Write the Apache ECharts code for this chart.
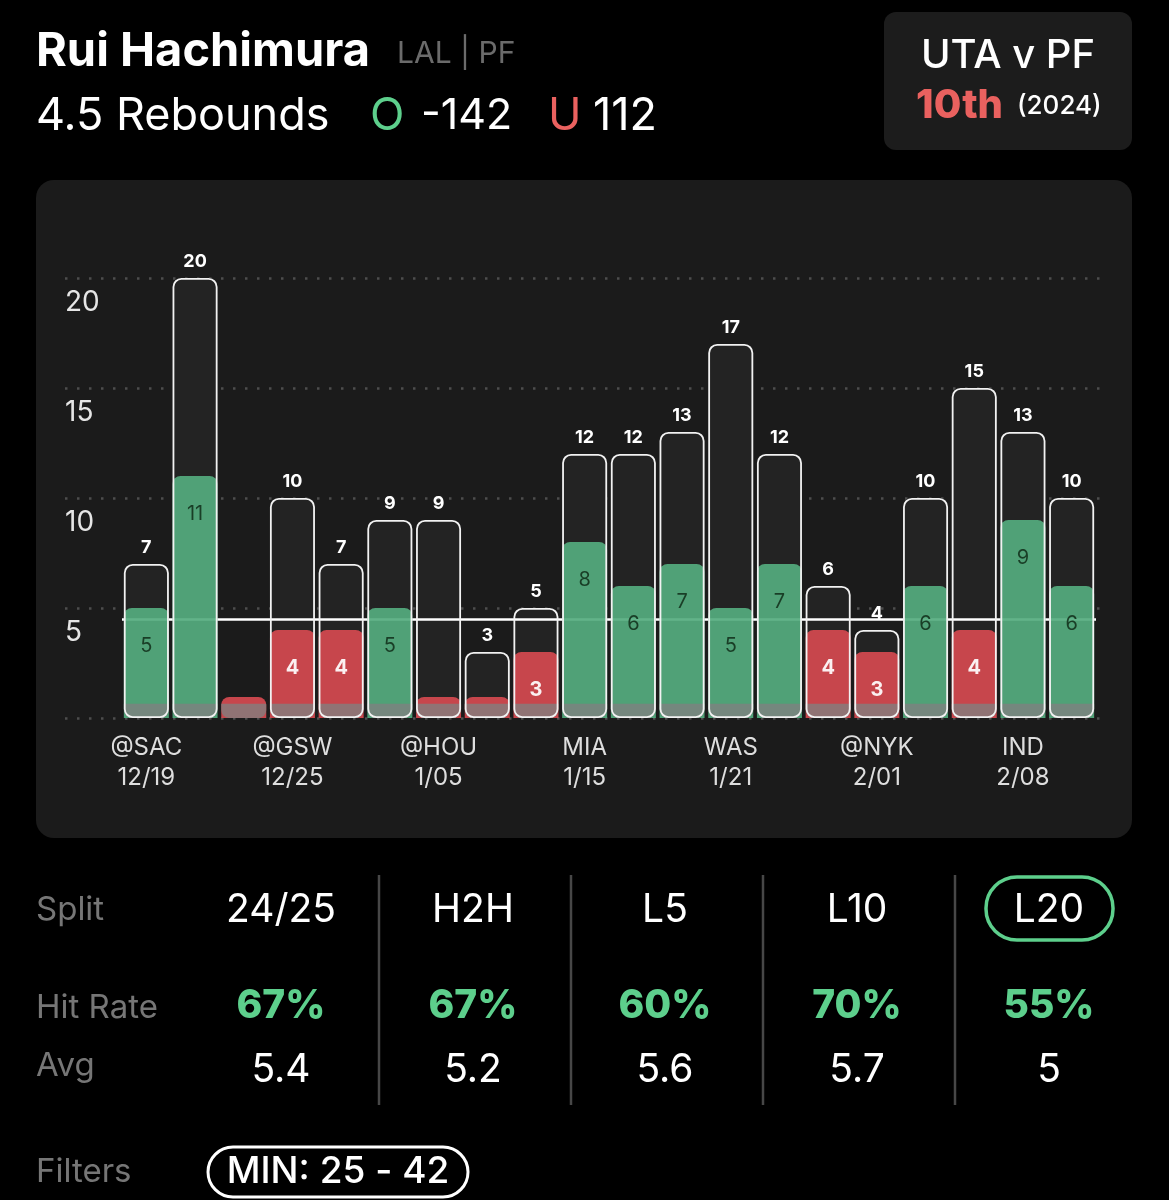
<!DOCTYPE html>
<html>
<head>
<meta charset="utf-8">
<script src="https://cdn.jsdelivr.net/npm/echarts@6/dist/echarts.min.js"></script>
<style>
  html, body { margin: 0; padding: 0; background: #000; }
  #chart { width: 1169px; height: 1200px; }
</style>
</head>
<body>
<div id="chart"></div>
<script>
// ---------- data ----------
const opponents = ['@SAC', '', '', '@GSW', '', '', '@HOU', '', '', 'MIA', '', '', 'WAS', '', '', '@NYK', '', '', 'IND', ''];
const dates     = ['12/19', '', '', '12/25', '', '', '1/05', '', '', '1/15', '', '', '1/21', '', '', '2/01', '', '', '2/08', ''];
const chances   = [7, 20, null, 10, 7, 9, 9, 3, 5, 12, 12, 13, 17, 12, 6, 4, 10, 15, 13, 10];
const rebounds  = [5, 11, 0, 4, 4, 5, 0, 0, 3, 8, 6, 7, 5, 7, 4, 3, 6, 4, 9, 6];
const propLine  = 4.5;
const yTicks    = [0, 5, 10, 15, 20];

const splits    = ['24/25', 'H2H', 'L5', 'L10', 'L20'];
const hitRates  = ['67%', '67%', '60%', '70%', '55%'];
const averages  = ['5.4', '5.2', '5.6', '5.7', '5'];

// ---------- styles ----------
const GREEN = '#55ad7f', RED = '#d64a50';
const TXT_GREEN = '#5dcf8c', TXT_RED = '#ea615f';
const FONT = 'Inter, "Noto Sans", sans-serif';
const BAND = 0.65;   // grey base band height (style only)

const categories = opponents.map((o, i) => o ? o + '\n' + dates[i] : ' '.repeat(i + 1));

const innerData = rebounds.map(v => {
  const over = v > propLine;
  return {
    value: v,
    itemStyle: { color: over ? GREEN : RED },
    label: {
      show: v > 0,
      color: over ? '#15351f' : '#ffffff',
      fontWeight: over ? 'normal' : 'bold'
    }
  };
});
const bandData = rebounds.map(() => BAND);

const chart = echarts.init(document.getElementById('chart'));

const colX = [281, 473, 665, 857, 1049];
const graphics = [
  // chart panel
  { type: 'rect', z: -10, shape: { x: 36, y: 180, width: 1096, height: 658, r: 18 }, style: { fill: '#1b1b1b' } },
  // top-right box
  { type: 'rect', z: -10, shape: { x: 884, y: 12, width: 248, height: 138, r: 12 }, style: { fill: '#1c1c1c' } },
  { type: 'text', x: 1008, y: 56, style: { text: 'UTA v PF', fill: '#fff', font: '500 40px ' + FONT, textAlign: 'center', textVerticalAlign: 'middle' } },
  { type: 'text', x: 1003, y: 106, style: { text: '10th', fill: TXT_RED, font: '800 40px ' + FONT, textAlign: 'right', textVerticalAlign: 'middle' } },
  { type: 'text', x: 1017, y: 106, style: { text: '(2024)', fill: '#fff', font: '500 26px ' + FONT, textAlign: 'left', textVerticalAlign: 'middle' } },
  // header
  { type: 'text', x: 36, y: 52, style: { text: 'Rui Hachimura', fill: '#fff', font: 'bold 47px ' + FONT, textAlign: 'left', textVerticalAlign: 'middle' } },
  { type: 'text', x: 397, y: 54, style: { text: 'LAL | PF', fill: '#6b6b6b', font: '30px ' + FONT, textAlign: 'left', textVerticalAlign: 'middle' } },
  { type: 'text', x: 36, y: 116, style: { text: '4.5 Rebounds', fill: '#fff', font: '45px ' + FONT, textAlign: 'left', textVerticalAlign: 'middle' } },
  { type: 'text', x: 370, y: 116, style: { text: 'O', fill: TXT_GREEN, font: '45px ' + FONT, textAlign: 'left', textVerticalAlign: 'middle' } },
  { type: 'text', x: 421, y: 116, style: { text: '-142', fill: '#fff', font: '43px ' + FONT, textAlign: 'left', textVerticalAlign: 'middle' } },
  { type: 'text', x: 548, y: 116, style: { text: 'U', fill: TXT_RED, font: '45px ' + FONT, textAlign: 'left', textVerticalAlign: 'middle' } },
  { type: 'text', x: 593, y: 116, style: { text: '112', fill: '#fff', font: '45px ' + FONT, textAlign: 'left', textVerticalAlign: 'middle' } },
  // table labels
  { type: 'text', x: 36, y: 910, style: { text: 'Split', fill: '#767676', font: '33px ' + FONT, textVerticalAlign: 'middle' } },
  { type: 'text', x: 36, y: 1008, style: { text: 'Hit Rate', fill: '#767676', font: '33px ' + FONT, textVerticalAlign: 'middle' } },
  { type: 'text', x: 36, y: 1066, style: { text: 'Avg', fill: '#767676', font: '33px ' + FONT, textVerticalAlign: 'middle' } },
  { type: 'text', x: 36, y: 1172, style: { text: 'Filters', fill: '#767676', font: '33px ' + FONT, textVerticalAlign: 'middle' } },
  // filter pill
  { type: 'rect', shape: { x: 208, y: 1147, width: 260, height: 50, r: 25 }, style: { fill: 'none', stroke: '#fff', lineWidth: 3 } },
  { type: 'text', x: 338, y: 1172, style: { text: 'MIN: 25 - 42', fill: '#fff', font: '500 37px ' + FONT, textAlign: 'center', textVerticalAlign: 'middle' } },
  // L20 pill
  { type: 'rect', shape: { x: 986, y: 877, width: 127, height: 63, r: 31 }, style: { fill: 'none', stroke: TXT_GREEN, lineWidth: 3.5 } }
];
[379, 571, 763, 955].forEach(x => graphics.push({ type: 'line', shape: { x1: x, y1: 875, x2: x, y2: 1105 }, style: { stroke: '#474747', lineWidth: 2.5 } }));
splits.forEach((s, i) => {
  graphics.push({ type: 'text', x: colX[i], y: 910, style: { text: s, fill: '#fff', font: '39px ' + FONT, textAlign: 'center', textVerticalAlign: 'middle' } });
  graphics.push({ type: 'text', x: colX[i], y: 1006, style: { text: hitRates[i], fill: TXT_GREEN, font: '800 39px ' + FONT, textAlign: 'center', textVerticalAlign: 'middle' } });
  graphics.push({ type: 'text', x: colX[i], y: 1070, style: { text: averages[i], fill: '#fff', font: '39px ' + FONT, textAlign: 'center', textVerticalAlign: 'middle' } });
});

const option = {
  backgroundColor: '#000',
  animation: false,
  textStyle: { fontFamily: FONT },
  graphic: graphics,
  grid: [
    { left: 122, right: 73, top: 278, bottom: 482 },
    { left: 65, right: 69, top: 278, bottom: 482 }
  ],
  xAxis: [
    {
      type: 'category', gridIndex: 0, data: categories,
      axisLine: { show: false }, axisTick: { show: false },
      axisLabel: {
        color: '#dedede', fontSize: 24, lineHeight: 30, margin: 15, fontFamily: FONT,
        interval: (i) => i % 3 === 0
      }
    },
    { type: 'value', gridIndex: 1, min: 0, max: 1, show: false }
  ],
  yAxis: [
    { type: 'value', gridIndex: 0, min: 0, max: 20, interval: 5, show: false },
    {
      type: 'value', gridIndex: 1, min: yTicks[0], max: yTicks[yTicks.length - 1], interval: 5,
      axisLine: { show: false }, axisTick: { show: false },
      splitLine: { show: true, lineStyle: { color: '#4d4d4d', width: 2.5, type: [2.5, 9.5] } },
      axisLabel: {
        inside: true, margin: 0, color: '#e6e6e6', fontSize: 28, fontFamily: FONT,
        verticalAlign: 'top', padding: [11, 0, 0, 0],
        formatter: v => v === 0 ? '' : String(v)
      }
    }
  ],
  series: [
    {
      name: 'Opportunities (fill)', type: 'bar', xAxisIndex: 0, yAxisIndex: 0,
      data: chances, barWidth: 45, barGap: '-100%', z: 1,
      itemStyle: { color: '#232323', borderRadius: 8 },
      markLine: {
        silent: true, symbol: 'none', label: { show: false }, z: 2,
        lineStyle: { color: '#ffffff', width: 2.5, type: 'solid' },
        data: [{ yAxis: propLine }]
      }
    },
    {
      name: 'Rebounds', type: 'bar', xAxisIndex: 0, yAxisIndex: 0,
      data: innerData, barWidth: 45, barGap: '-100%', z: 6, barMinHeight: 21,
      itemStyle: { borderRadius: [8, 8, 0, 0], opacity: 0.92 },
      label: { show: true, position: 'insideTop', distance: 28, fontSize: 20, fontFamily: FONT }
    },
    {
      name: 'Base', type: 'bar', xAxisIndex: 0, yAxisIndex: 0,
      data: bandData, barWidth: 45, barGap: '-100%', z: 7, silent: true,
      itemStyle: { color: 'rgba(128,128,128,0.78)', borderRadius: [0, 0, 8, 8] }
    },
    {
      name: 'Opportunities', type: 'bar', xAxisIndex: 0, yAxisIndex: 0,
      data: chances, barWidth: 45, barGap: '-100%', z: 8,
      itemStyle: { color: 'rgba(0,0,0,0)', borderColor: '#f2f2f2', borderWidth: 1.8, borderRadius: 8 },
      label: { show: true, position: 'top', distance: 7, color: '#fff', fontWeight: 'bold', fontSize: 18, fontFamily: FONT }
    }
  ]
};
chart.setOption(option);
</script>
</body>
</html>
